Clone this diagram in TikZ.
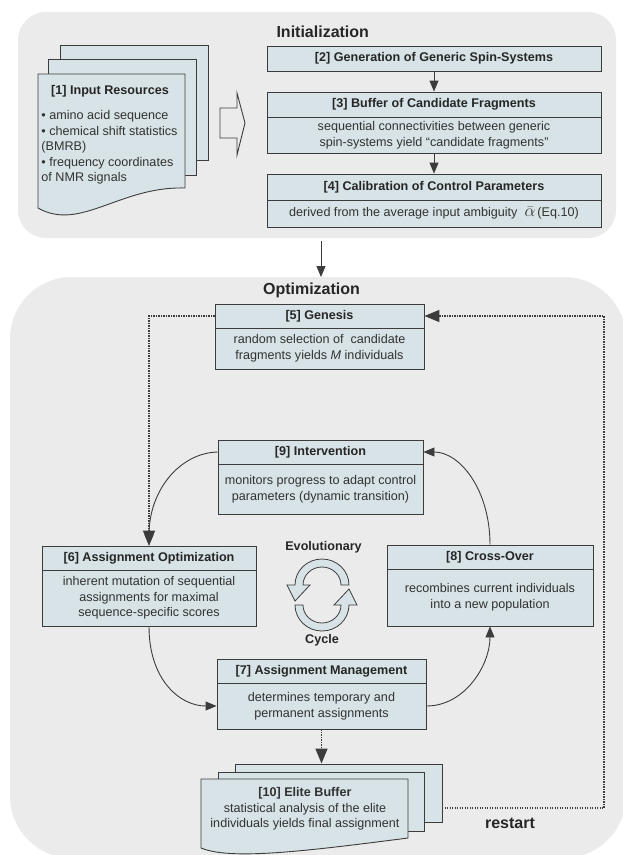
\documentclass[tikz,border=0pt]{standalone}
\usepackage{fontspec}
\setmainfont{Liberation Sans}
\usetikzlibrary{arrows.meta}
\definecolor{panelc}{RGB}{235,235,235}
\definecolor{boxc}{RGB}{215,227,230}
\definecolor{linec}{RGB}{60,60,60}
\definecolor{txtc}{RGB}{50,50,50}
\begin{document}
\begin{tikzpicture}[x=1pt,y=-1pt,
 ttl/.style={draw=linec, line width=0.9pt, fill=boxc, inner sep=0pt, font=\fontsize{12.6}{15.6}\selectfont\bfseries, text=black!85},
 bdy/.style={draw=linec, line width=0.9pt, fill=boxc, inner sep=0pt, align=center, font=\fontsize{12.6}{15.6}\selectfont, text=txtc},
 doc/.style={draw=linec, line width=0.9pt, fill=boxc, inner sep=0pt},
 head/.style={font=\fontsize{16}{19}\selectfont\bfseries, text=black!85},
 lbl/.style={font=\fontsize{12.6}{15.6}\selectfont\bfseries, text=black!85},
 arr/.style={-{Triangle[length=11pt,width=9pt]}, line width=0.9pt, draw=linec},
 darr/.style={-{Triangle[length=15pt,width=12pt]}, line width=1.6pt, dash pattern=on 1.4pt off 1.1pt, draw=linec},
]
\useasboundingbox (0,0) rectangle (623,855);
\clip (0,0) rectangle (623,855);
\fill[white] (0,0) rectangle (623,855);
% panels
\fill[panelc, rounded corners=28pt] (18,12) rectangle (616,238);
\fill[panelc, rounded corners=62pt] (10,277) rectangle (626,858);
\node[head, anchor=west] (hinit) at (273,32) {Initialization};
\node[head] (hopt) at (311.5,290) {Optimization};
% input resources document stack
\node[doc, minimum width=148pt, minimum height=115pt] (d1c) at (134,102.5) {};
\node[doc, minimum width=148pt, minimum height=116pt] (d1b) at (122,117) {};
\draw[linec, line width=0.9pt, fill=boxc] (38,74) -- (185,74) -- (185,188) .. controls (120,186) and (80,232) .. (38,208) -- cycle;
\node[lbl] (n1t) at (110,91) {[1] Input Resources};
\node[bdy, draw=none, fill=none, align=left, anchor=west] (n1b) at (41,147.5) {• amino acid sequence\\• chemical shift statistics\\(BMRB)\\• frequency coordinates\\of NMR signals};
% block arrow
\draw[linec, line width=0.9pt, fill=panelc] (220,108) -- (237,108) -- (237,93) -- (245,123) -- (237,155) -- (237,138) -- (220,138) -- cycle;
% initialization boxes
\node[ttl, minimum width=334pt, minimum height=25pt] (b2) at (434,58.5) {[2] Generation of Generic Spin-Systems};
\node[ttl, minimum width=334pt, minimum height=25pt] (b3t) at (434,104.5) {[3] Buffer of Candidate Fragments};
\node[bdy, minimum width=334pt, minimum height=36pt] (b3b) at (434,135) {sequential connectivities between generic\\spin-systems yield “candidate fragments”};
\node[ttl, minimum width=334pt, minimum height=26pt] (b4t) at (434,187) {[4] Calibration of Control Parameters};
\node[bdy, minimum width=334pt, minimum height=27pt] (b4b) at (434,213.5) {derived from the average input ambiguity\ \ \raisebox{0pt}[8pt][0pt]{\fontsize{17}{17}\selectfont$\bar{\alpha}$}\,(Eq.10)};
\draw[arr] (b2.south) -- (b3t.north);
\draw[arr] (b3b.south) -- (b4t.north);
\coordinate (tpa) at (321,241);
\coordinate (tpb) at (321,277);
\draw[arr] (tpa) -- (tpb);
% optimization boxes
\node[ttl, minimum width=209pt, minimum height=24pt] (b5t) at (319.5,316) {[5] Genesis};
\node[bdy, minimum width=209pt, minimum height=41pt] (b5b) at (319.5,348.5) {random selection of\ \ candidate\\fragments yields \textit{M} individuals};
\node[ttl, minimum width=205pt, minimum height=24pt] (b9t) at (320.5,452) {[9] Intervention};
\node[bdy, minimum width=205pt, minimum height=50pt] (b9b) at (320.5,489) {monitors progress to adapt control\\parameters (dynamic transition)};
\node[ttl, minimum width=214pt, minimum height=24pt] (b6t) at (149,558) {[6] Assignment Optimization};
\node[bdy, minimum width=214pt, minimum height=56pt] (b6b) at (149,598) {inherent mutation of sequential\\assignments for maximal\\sequence-specific scores};
\node[ttl, minimum width=206pt, minimum height=24pt] (b8t) at (490,557) {[8] Cross-Over};
\node[bdy, minimum width=206pt, minimum height=57pt] (b8b) at (490,597.5) {recombines current individuals\\into a new population};
\node[ttl, minimum width=209pt, minimum height=24pt] (b7t) at (321.5,671) {[7] Assignment Management};
\node[bdy, minimum width=209pt, minimum height=46pt] (b7b) at (321.5,706) {determines temporary and\\permanent assignments};
% evolutionary cycle
\node[lbl] (evo) at (323.5,547) {Evolutionary};
\node[lbl] (cyc) at (322,640) {Cycle};
\draw[linec, line width=0.8pt, fill=boxc] (349,585) arc[start angle=0,end angle=-180,x radius=27,y radius=26] -- (287,585) -- (295,601) -- (310,585) -- (303,585) arc[start angle=-180,end angle=0,x radius=19,y radius=18] -- cycle;
\begin{scope}[rotate around={180:(322,595)}]
\draw[linec, line width=0.8pt, fill=boxc] (349,585) arc[start angle=0,end angle=-180,x radius=27,y radius=26] -- (287,585) -- (295,601) -- (310,585) -- (303,585) arc[start angle=-180,end angle=0,x radius=19,y radius=18] -- cycle;
\end{scope}
% elite buffer stack
\node[doc, minimum width=207pt, minimum height=58pt] (eb) at (338.5,793) {};
\node[doc, minimum width=206pt, minimum height=59pt] (em) at (321,801.5) {};
\draw[linec, line width=0.9pt, fill=boxc] (201,779) -- (408,779) -- (408,838) .. controls (300,852) and (230,860) .. (201,848) -- cycle;
\node[bdy, draw=none, fill=none] (n10) at (305,809) {\textbf{[10] Elite Buffer}\\statistical analysis of the elite\\individuals yields final assignment};
\node[head] (rst) at (510,823) {restart};
% connectors
\draw[darr] (b5t.west) -| (b6t.north);
\draw[arr] (b9t.west) .. controls (180,453) and (149,490) .. (b6t.north);
\draw[arr] (b6b.south) .. controls (149,680) and (180,706) .. (b7b.west);
\draw[arr] (b7b.east) .. controls (465,706) and (490,665) .. (b8b.south);
\draw[arr] (b8t.north) .. controls (490,490) and (460,452) .. (b9t.east);
\draw[darr] (b7b.south) -- (b7b.south |- eb.north);
\coordinate (rs) at (442,808);
\coordinate (rc1) at (604,808);
\coordinate (rc2) at (604,316);
\draw[darr] (rs) -- (rc1) -- (rc2) -- (b5t.east);
\end{tikzpicture}
\end{document}
